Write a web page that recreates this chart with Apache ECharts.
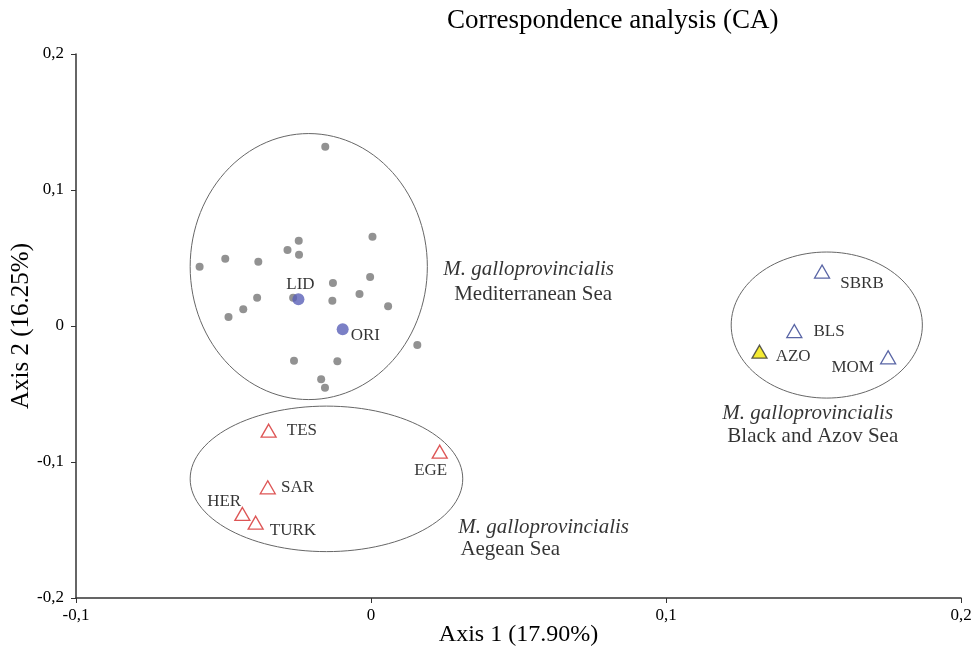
<!DOCTYPE html>
<html>
<head>
<meta charset="utf-8">
<script src="https://cdn.jsdelivr.net/npm/echarts@6/dist/echarts.min.js"></script>
<style>html,body{margin:0;padding:0;background:#fff}#c{width:973px;height:652px}</style>
</head>
<body>
<div id="c"></div>
<script>
// ---- data ----
const grayX = [-0.0155, 0.0005, -0.0245, -0.0283, -0.0244, -0.0494, -0.0382, -0.0581, -0.0003, -0.0129, -0.0386, -0.0264, -0.0039, -0.0131, 0.0058, -0.0433, -0.0483, 0.0157, -0.0261, -0.0114, -0.0169, -0.0156];
const grayY = [0.1318, 0.0657, 0.0627, 0.0559, 0.0524, 0.0495, 0.0473, 0.0436, 0.0360, 0.0316, 0.0208, 0.0208, 0.0235, 0.0186, 0.0145, 0.0123, 0.0066, -0.0140, -0.0255, -0.0260, -0.0392, -0.0454];
const blueNames = ['LID', 'ORI'];
const blueX = [-0.0246, -0.0096];
const blueY = [0.0196, -0.0024];
const aegeanNames = ['TES', 'EGE', 'SAR', 'HER', 'TURK'];
const aegeanX = [-0.0347, 0.0233, -0.0350, -0.0436, -0.0391];
const aegeanY = [-0.0770, -0.0924, -0.1186, -0.1382, -0.1446];
const blackNames = ['SBRB', 'BLS', 'AZO', 'MOM'];
const blackX = [0.1529, 0.1435, 0.1317, 0.1753];
const blackY = [0.0400, -0.0037, -0.0189, -0.0230];
const groupNames = ['Mediterranean Sea', 'Aegean Sea', 'Black and Azov Sea'];
const ellipseCx = [-0.0211, -0.0151, 0.1545];
const ellipseCy = [0.0437, -0.1124, 0.0007];
const ellipseRx = [0.0402, 0.0462, 0.0324];
const ellipseRy = [0.0978, 0.0535, 0.0537];
const speciesName = 'M. galloprovincialis';
const annItalicX = [0.0245, 0.0296, 0.1191];
const annItalicY = [0.0412, -0.1478, -0.0640];
const annRegionX = [0.0282, 0.0303, 0.1208];
const annRegionY = [0.0235, -0.1640, -0.0816];
const xTicks = [-0.1, 0, 0.1, 0.2];
const yTicks = [-0.2, -0.1, 0, 0.1, 0.2];
const titleText = 'Correspondence analysis (CA)';
const xName = 'Axis 1 (17.90%)';
const yName = 'Axis 2 (16.25%)';

// ---- styles ----
const FONT = '"Liberation Serif", "DejaVu Serif", serif';
const labelPlace = {
  LID: {position: 'top', distance: 0, offset: [2, 0]},
  ORI: {position: 'right', distance: 2, offset: [0, 6]},
  TES: {position: 'right', distance: 10, offset: [0, 0]},
  EGE: {position: 'bottom', distance: 3, offset: [-9, 0]},
  SAR: {position: 'right', distance: 5, offset: [0, 0]},
  HER: {position: 'left', distance: -7, offset: [0, -12]},
  TURK: {position: 'right', distance: 6, offset: [0, 8]},
  SBRB: {position: 'right', distance: 10, offset: [0, 12]},
  BLS: {position: 'right', distance: 11, offset: [0, 0]},
  AZO: {position: 'right', distance: 8, offset: [0, 5]},
  MOM: {position: 'left', distance: 6, offset: [0, 10]}
};
const ptLabel = {show: true, color: '#000', fontFamily: FONT, fontSize: 17, formatter: p => p.name};
function named(names, xs, ys, extra) {
  return names.map((n, i) => Object.assign({name: n, value: [xs[i], ys[i]],
    label: Object.assign({}, ptLabel, labelPlace[n])}, extra ? extra(n) : {}));
}
const fmt = v => (Math.abs(v) < 1e-9 ? '0' : v.toFixed(1).replace('.', ','));

const chart = echarts.init(document.getElementById('c'), null, {renderer: 'canvas'});
const option = {
  animation: false,
  title: {text: titleText, left: 442, top: 2,
    textStyle: {fontFamily: FONT, fontSize: 27, fontWeight: 'normal', color: '#000'}},
  grid: {left: 76, right: 12, top: 54, bottom: 54, containLabel: false, outerBoundsMode: 'none'},
  xAxis: {type: 'value', min: xTicks[0], max: xTicks[xTicks.length - 1], interval: 0.1,
    name: xName, nameLocation: 'middle', nameGap: 25, nameMoveOverlap: false,
    nameTextStyle: {fontFamily: FONT, fontSize: 24, color: '#000'},
    axisLine: {show: true, onZero: false, lineStyle: {color: '#333', width: 1.5}},
    axisTick: {show: true, inside: false, length: 5, lineStyle: {color: '#333'}},
    axisLabel: {formatter: fmt, margin: 9, fontFamily: FONT, fontSize: 17, color: '#000'},
    splitLine: {show: false}},
  yAxis: {type: 'value', min: yTicks[0], max: yTicks[yTicks.length - 1], interval: 0.1,
    name: yName, nameLocation: 'middle', nameGap: 42, nameRotate: 90, nameMoveOverlap: false,
    nameTextStyle: {fontFamily: FONT, fontSize: 25, color: '#000'},
    axisLine: {show: true, onZero: false, lineStyle: {color: '#333', width: 1.5}},
    axisTick: {show: true, inside: false, length: 5, lineStyle: {color: '#333'}},
    axisLabel: {formatter: fmt, margin: 12, fontFamily: FONT, fontSize: 17, color: '#000'},
    splitLine: {show: false}},
  series: [
    {type: 'custom', name: 'groups', silent: true, z: 1,
      data: groupNames.map((n, i) => [ellipseCx[i], ellipseCy[i], ellipseRx[i], ellipseRy[i]]),
      encode: {x: 0, y: 1},
      renderItem: function (params, api) {
        const cx = api.value(0), cy = api.value(1), rx = api.value(2), ry = api.value(3);
        const pts = [];
        for (let k = 0; k < 120; k++) {
          const t = k / 120 * Math.PI * 2;
          pts.push(api.coord([cx + rx * Math.cos(t), cy + ry * Math.sin(t)]));
        }
        return {type: 'polygon', shape: {points: pts},
          style: {fill: 'none', stroke: '#666', lineWidth: 1}};
      }},
    {type: 'scatter', name: 'other', z: 2, symbol: 'circle', symbolSize: 8,
      itemStyle: {color: '#777777'},
      data: grayX.map((x, i) => [x, grayY[i]])},
    {type: 'scatter', name: 'Mediterranean', z: 3, symbol: 'circle', symbolSize: 12,
      itemStyle: {color: '#5a60b8'},
      data: named(blueNames, blueX, blueY)},
    {type: 'scatter', name: 'Aegean', z: 3, symbol: 'triangle', symbolSize: [15, 13],
      itemStyle: {color: '#ffffff', borderColor: '#d42a2a', borderWidth: 1.3},
      data: named(aegeanNames, aegeanX, aegeanY)},
    {type: 'scatter', name: 'Black', z: 3, symbol: 'triangle', symbolSize: [15, 13],
      itemStyle: {color: '#ffffff', borderColor: '#2f3f8f', borderWidth: 1.3},
      data: named(blackNames, blackX, blackY, n => n === 'AZO' ?
        {itemStyle: {color: '#f2e600', borderColor: '#333', borderWidth: 1.3}} : {})},
    {type: 'scatter', name: 'annotations', z: 4, symbolSize: 0, silent: true,
      label: {show: true, position: 'right', distance: 0, color: '#000', fontFamily: FONT, fontSize: 21},
      data: groupNames.map((n, i) => ({value: [annItalicX[i], annItalicY[i]],
        label: {formatter: speciesName, fontStyle: 'italic'}})).concat(
        groupNames.map((n, i) => ({value: [annRegionX[i], annRegionY[i]],
          label: {formatter: n}})))}
  ]
};
chart.setOption(option);
</script>
</body>
</html>
